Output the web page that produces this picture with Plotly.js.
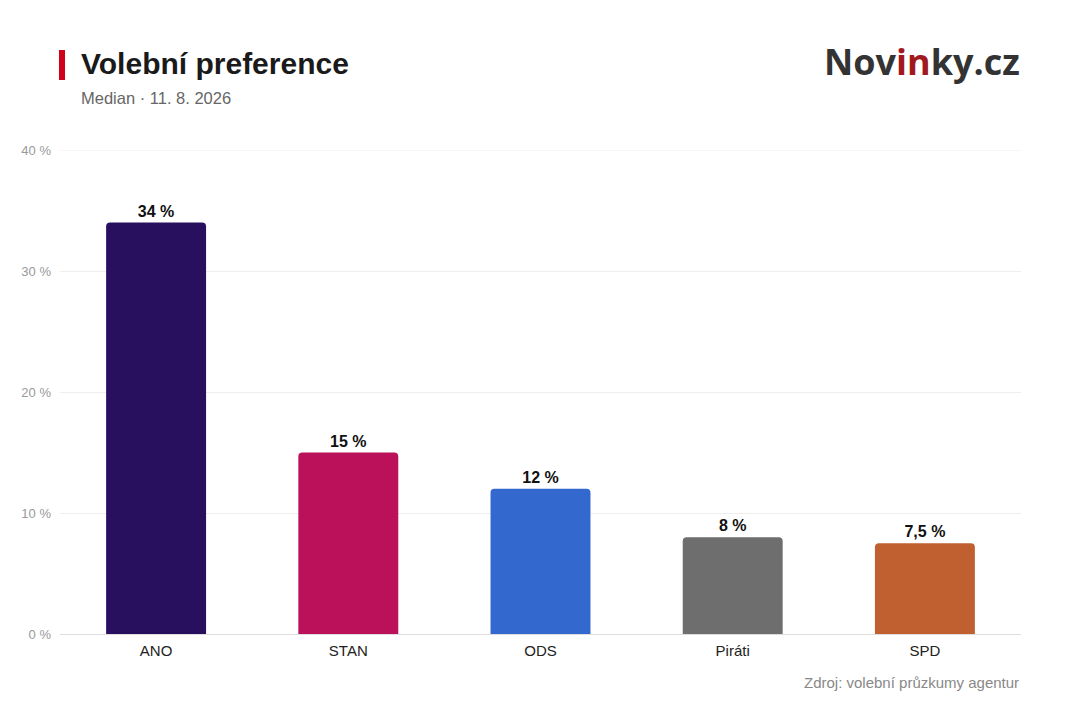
<!DOCTYPE html>
<html>
<head>
<meta charset="utf-8">
<script src="https://cdn.plot.ly/plotly-3.0.1.min.js"></script>
<style>html,body{margin:0;padding:0;background:#fff;}#chart{width:1080px;height:720px;}</style>
</head>
<body>
<div id="chart"></div>
<script>
const categories = ["ANO", "STAN", "ODS", "Piráti", "SPD"];
const values = [34, 15, 12, 8, 7.5];
const barColors = ["#29105e", "#ba115a", "#3368cf", "#6e6e6e", "#c06030"];
const yTickVals = [0, 10, 20, 30, 40];
const yTickText = ["0 %", "10 %", "20 %", "30 %", "40 %"];
const titleText = "Volební preference";
const subtitleText = "Median · 11. 8. 2026";
const sourceText = "Zdroj: volební průzkumy agentur";

const W = 1080, H = 720;
const M = {l: 60, r: 59, t: 150, b: 86};
const pw = W - M.l - M.r, ph = H - M.t - M.b;
const px = x => (x - M.l) / pw;
const py = y => (H - M.b - y) / ph;

const FONT = "Liberation Sans, Arial, Helvetica, sans-serif";
const yMax = yTickVals[yTickVals.length - 1];

const trace = {
  type: "bar",
  x: categories,
  y: values,
  marker: {color: barColors, cornerradius: 4, line: {width: 0}},
  texttemplate: "%{y} %",
  textposition: "outside",
  cliponaxis: false,
  textfont: {family: FONT, size: 16, color: "#111", weight: 700},
  hoverinfo: "skip"
};

const layout = {
  width: W, height: H,
  margin: M,
  paper_bgcolor: "#fff",
  plot_bgcolor: "#fff",
  separators: ", ",
  bargap: 0.48,
  showlegend: false,
  font: {family: FONT},
  xaxis: {
    type: "category",
    range: [-0.5, 4.5],
    showgrid: false,
    showline: false,
    zeroline: false,
    ticks: "",
    ticklabelstandoff: 6,
    tickfont: {family: FONT, size: 15, color: "#222"},
    fixedrange: true
  },
  yaxis: {
    range: [0, yMax],
    tickmode: "array",
    tickvals: yTickVals,
    ticktext: yTickText,
    tickfont: {family: FONT, size: 13, color: "#999"},
    gridcolor: "#eeeeee",
    gridwidth: 1,
    zeroline: true,
    zerolinecolor: "#dddddd",
    zerolinewidth: 1,
    showline: false,
    ticks: "",
    ticklabelstandoff: 8,
    fixedrange: true
  },
  shapes: [
    {type: "rect", xref: "paper", yref: "paper",
     x0: px(59), x1: px(65), y0: py(80), y1: py(50),
     fillcolor: "#d0021b", line: {width: 0}},
    {type: "line", xref: "paper", yref: "y", x0: 0, x1: 1, y0: yMax, y1: yMax,
     line: {color: "#eeeeee", width: 1}, layer: "below"}
  ],
  annotations: [
    {xref: "paper", yref: "paper", x: px(79), y: py(63), xanchor: "left", yanchor: "middle",
     text: "<b>" + titleText + "</b>", showarrow: false,
     font: {family: FONT, size: 30, color: "#1a1a1a"}},
    {xref: "paper", yref: "paper", x: px(79), y: py(98), xanchor: "left", yanchor: "middle",
     text: subtitleText, showarrow: false,
     font: {family: FONT, size: 16.5, color: "#666"}},
    {xref: "paper", yref: "paper", x: px(1022), y: py(62), xanchor: "right", yanchor: "middle",
     text: "Nov<span style='color:#a0191e'>in</span>ky.cz", showarrow: false,
     font: {family: "Open Sans, sans-serif", size: 36, color: "#333", weight: 700}},
    {xref: "paper", yref: "paper", x: px(1021), y: py(682), xanchor: "right", yanchor: "middle",
     text: sourceText, showarrow: false,
     font: {family: FONT, size: 15, color: "#888"}}
  ]
};

Plotly.newPlot("chart", [trace], layout, {displayModeBar: false, staticPlot: true});
</script>
</body>
</html>
